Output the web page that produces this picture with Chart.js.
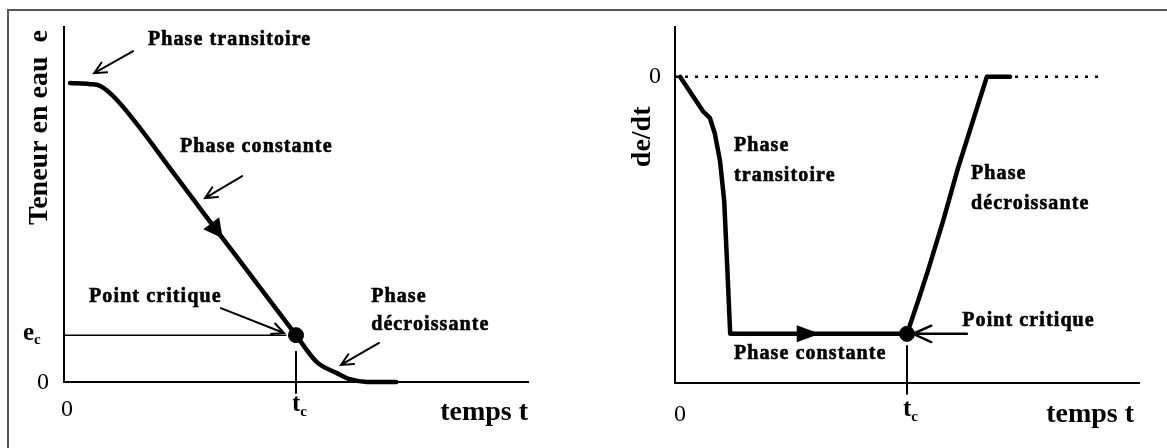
<!DOCTYPE html>
<html>
<head>
<meta charset="utf-8">
<script src="https://cdn.jsdelivr.net/npm/chart.js@4.4.1/dist/chart.umd.min.js"></script>
<style>
  html, body { margin: 0; padding: 0; background: #fff; }
  #wrap { position: relative; width: 1167px; height: 448px; overflow: hidden; }
  #frame { position: absolute; left: 7px; top: 9px; width: 1300px; height: 600px;
           border-left: 2px solid #555; border-top: 2px solid #555; }
  #leftChart { position: absolute; left: 0; top: 0; }
  #rightChart { position: absolute; left: 583px; top: 0; }
</style>
</head>
<body>
<div id="wrap">
  <div id="frame"></div>
  <canvas id="leftChart" width="583" height="448"></canvas>
  <canvas id="rightChart" width="584" height="448"></canvas>
</div>
<script>
// ---- data (axes are in arbitrary units 0..100) ----
var tc = 50;              // critical time
var ec = 13.2;            // critical water content
var rateCrit = -72.2;     // de/dt during the constant phase

// left: teneur en eau e(t)
var tLeft = [1.3, 5.6, 7.8, 11.0, 24.4, 30.0, 37.9, 50.0, 54.5, 58.8, 61.6, 65.3, 71.6];
var eLeft = [84.2, 83.9, 83.4, 80.0, 57.5, 47.7, 34.1, 13.2, 5.6, 2.5, 0.8, 0, 0];

// right: drying rate de/dt
var tRight = [1.1, 6.0, 7.5, 8.6, 9.7, 10.6, 11.2, 11.9, 50.0, 52.6, 54.5, 57.8, 61.0, 67.2, 72.2];
var rRight = [0, -9.6, -11.5, -16.0, -23.6, -34.8, -51.7, -72.2, -72.2, -62.1, -54.5, -40.4, -25.6, 0, 0];

var zeroLineEnd = 92.5;
var ecLineEnd = 47.8;

function pts(xs, ys) {
  return xs.map(function (v, i) { return { x: v, y: ys[i] }; });
}

var serif = "'Liberation Serif', 'Times New Roman', serif";

// open arrow: tail -> tip
function arrow(ctx, x1, y1, x2, y2, len, ang, w) {
  var a = Math.atan2(y2 - y1, x2 - x1);
  ctx.lineWidth = w;
  ctx.beginPath();
  ctx.moveTo(x1, y1); ctx.lineTo(x2, y2);
  ctx.moveTo(x2 - len * Math.cos(a - ang), y2 - len * Math.sin(a - ang));
  ctx.lineTo(x2, y2);
  ctx.lineTo(x2 - len * Math.cos(a + ang), y2 - len * Math.sin(a + ang));
  ctx.stroke();
}

function interp(xs, ys, v) {
  for (var i = 1; i < xs.length; i++) {
    if (v <= xs[i]) {
      var f = (v - xs[i - 1]) / (xs[i] - xs[i - 1]);
      return ys[i - 1] + f * (ys[i] - ys[i - 1]);
    }
  }
  return ys[ys.length - 1];
}

var drawings = {
  id: 'drawings',
  afterDatasetsDraw: function (chart, args, opts) {
    var ctx = chart.ctx;
    var sx = chart.scales.x, sy = chart.scales.y;
    var X = function (v) { return sx.getPixelForValue(v); };
    var Y = function (v) { return sy.getPixelForValue(v); };
    ctx.save();
    ctx.fillStyle = '#000';
    ctx.strokeStyle = '#000';
    ctx.lineCap = 'round';

    // filled arrowheads sitting on the curve
    (opts.heads || []).forEach(function (h) {
      var x2 = X(h.at), y2 = Y(interp(h.xs, h.ys, h.at));
      var x1 = X(h.at - 1), y1 = Y(interp(h.xs, h.ys, h.at - 1));
      var a = Math.atan2(y2 - y1, x2 - x1);
      ctx.beginPath();
      ctx.moveTo(x2, y2);
      ctx.lineTo(x2 - h.len * Math.cos(a) + h.half * Math.sin(a), y2 - h.len * Math.sin(a) - h.half * Math.cos(a));
      ctx.lineTo(x2 - h.len * Math.cos(a) - h.half * Math.sin(a), y2 - h.len * Math.sin(a) + h.half * Math.cos(a));
      ctx.closePath();
      ctx.fill();
    });

    (opts.arrows || []).forEach(function (a) {
      arrow(ctx, X(a[0]), Y(a[1]), X(a[2]), Y(a[3]), a[4] || 13, a[5] || 0.45, a[6] || 2);
    });

    (opts.texts || []).forEach(function (t) {
      var x = X(t.x) + (t.dx || 0), y = Y(t.y) + (t.dy || 0);
      ctx.font = t.font;
      ctx.letterSpacing = t.spacing || '0px';
      ctx.textBaseline = 'middle';
      ctx.textAlign = t.align || 'left';
      if (t.rotate) {
        ctx.save();
        ctx.translate(x, y);
        ctx.rotate(-Math.PI / 2);
        ctx.fillText(t.text, 0, 0);
        ctx.restore();
        return;
      }
      ctx.fillText(t.text, x, y);
      if (t.heavy) {
        // scanned print looks heavier than the font
        ctx.lineWidth = 0.6;
        ctx.strokeText(t.text, x, y);
      }
      if (t.sub) {
        var w = ctx.measureText(t.text).width;
        var left = t.align === 'center' ? x - w / 2 : (t.align === 'right' ? x - w : x);
        ctx.font = t.subFont;
        ctx.textAlign = 'left';
        ctx.fillText(t.sub, left + w, y + 7);
      }
    });
    ctx.restore();
  }
};

var annFont = 'bold 20px ' + serif;
var titleFont = 'bold 28px ' + serif;
var zeroFont = '24px ' + serif;
var symFont = 'bold 25px ' + serif;
var subFont = 'bold 15px ' + serif;

function ann(text, x, y) {
  return { text: text, x: x, y: y, font: annFont, spacing: '1.1px', heavy: true };
}

function axisOpts(min, max, vertical) {
  return {
    type: 'linear', min: min, max: max,
    grid: { display: false, drawTicks: false },
    ticks: { display: false },
    border: { display: true, color: '#000', width: 2 },
    afterFit: function (s) { if (vertical) { s.width = 0; } else { s.height = 0; } }
  };
}

function baseOptions(pad, ymin, ymax, plug) {
  return {
    responsive: false,
    animation: false,
    layout: { padding: pad },
    plugins: { legend: { display: false }, tooltip: { enabled: false }, drawings: plug },
    scales: { x: axisOpts(0, 100, false), y: axisOpts(ymin, ymax, true) }
  };
}

var lineDs = function (data, w, extra) {
  var d = { data: data, borderColor: '#000', backgroundColor: '#000', borderWidth: w,
            pointRadius: 0, showLine: true, clip: false, fill: false,
            borderCapStyle: 'round', borderJoinStyle: 'round' };
  for (var k in extra) d[k] = extra[k];
  return d;
};

// ---------------- left chart ----------------
new Chart(document.getElementById('leftChart'), {
  type: 'scatter',
  data: {
    datasets: [
      lineDs(pts(tLeft, eLeft), 4.5, { cubicInterpolationMode: 'monotone' }),
      lineDs([{ x: 0, y: ec }, { x: ecLineEnd, y: ec }], 1.5),
      lineDs([{ x: tc, y: 8.5 }, { x: tc, y: -3.1 }], 2),
      { data: [{ x: tc, y: ec }], pointRadius: 7.5, backgroundColor: '#000', borderColor: '#000', clip: false }
    ]
  },
  options: baseOptions({ left: 64, right: 55, top: 27, bottom: 66 }, 0, 100, {
    heads: [{ xs: tLeft, ys: eLeft, at: 34.2, len: 19, half: 10 }],
    arrows: [
      [14.9, 93.2, 6.5, 87.0],
      [38.4, 58.0, 30.4, 51.8],
      [33.8, 20.8, 47.4, 13.8],
      [67.9, 11.0, 59.7, 4.8]
    ],
    texts: [
      ann('Phase transitoire', 18.1, 96.3),
      ann('Phase constante', 25.0, 66.2),
      ann('Point critique', 5.4, 23.9),
      ann('Phase', 66.2, 23.9),
      ann('décroissante', 66.2, 16.1),
      { text: 'Teneur en eau  e', x: 0, y: 100, dx: -24, dy: 3, font: titleFont, align: 'right', rotate: true },
      { text: '0', x: 0, y: 0, dx: -21, dy: 1, font: zeroFont, align: 'center' },
      { text: 'e', x: 0, y: ec, dx: -41, dy: -2, font: symFont, sub: 'c', subFont: subFont },
      { text: '0', x: 0, y: 0, dx: 3, dy: 28, font: zeroFont, align: 'center' },
      { text: 't', x: tc, y: 0, dx: -4, dy: 23, font: symFont, sub: 'c', subFont: subFont },
      { text: 'temps t', x: 100, y: 0, dx: 0, dy: 31, font: 'bold 28px ' + serif, align: 'right' }
    ]
  }),
  plugins: [drawings]
});

// ---------------- right chart ----------------
new Chart(document.getElementById('rightChart'), {
  type: 'scatter',
  data: {
    datasets: [
      lineDs([{ x: 0, y: 0 }, { x: zeroLineEnd, y: 0 }], 2.5, { borderDash: [3, 7], borderCapStyle: 'butt' }),
      lineDs(pts(tRight, rRight), 4.5, { tension: 0 }),
      lineDs([{ x: tc, y: -75.6 }, { x: tc, y: -89 }], 2),
      { data: [{ x: tc, y: rateCrit }], pointRadius: 7.5, backgroundColor: '#000', borderColor: '#000', clip: false }
    ]
  },
  options: baseOptions({ left: 92, right: 28, top: 27, bottom: 65 }, -86, 14, {
    heads: [{ xs: tRight, ys: rRight, at: 31.2, len: 23, half: 8.5 }],
    arrows: [
      [62.9, rateCrit, 51.3, rateCrit, 20, 0.42, 2.5]
    ],
    texts: [
      ann('Phase', 12.7, -19.4),
      ann('transitoire', 12.7, -27.8),
      ann('Phase', 63.8, -27.2),
      ann('décroissante', 63.8, -35.7),
      ann('Phase constante', 12.7, -77.8),
      ann('Point critique', 61.9, -68.5),
      { text: 'de/dt', x: 0, y: 0, dx: -32, dy: 60, font: titleFont, align: 'center', rotate: true },
      { text: '0', x: 0, y: 0, dx: -20, dy: 0, font: zeroFont, align: 'center' },
      { text: '0', x: 0, y: -86, dx: 5, dy: 32, font: zeroFont, align: 'center' },
      { text: 't', x: tc, y: -86, dx: -4, dy: 27, font: symFont, sub: 'c', subFont: subFont },
      { text: 'temps t', x: 100, y: -86, dx: -5, dy: 32, font: 'bold 28px ' + serif, align: 'right' }
    ]
  }),
  plugins: [drawings]
});
</script>
</body>
</html>
